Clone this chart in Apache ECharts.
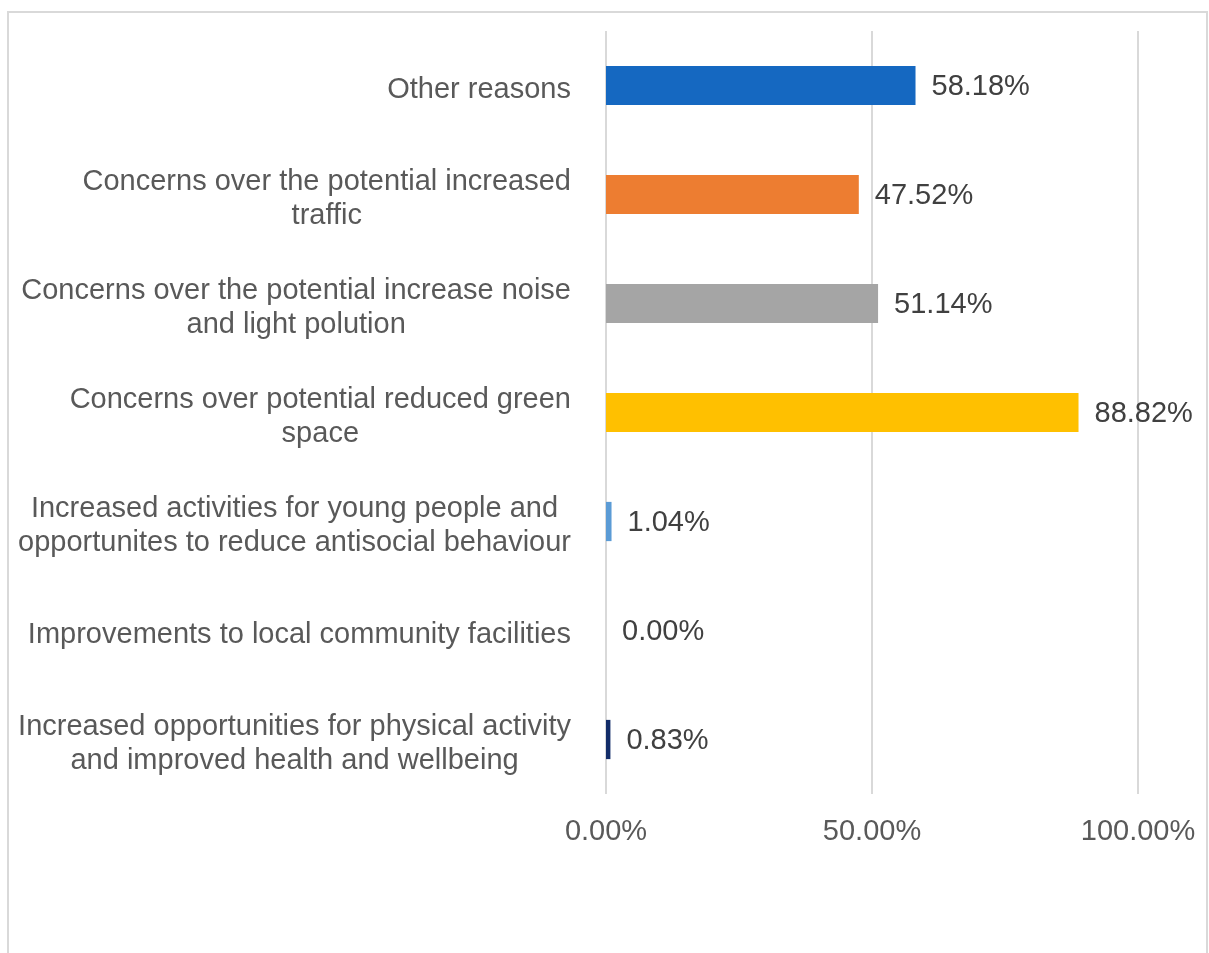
<!DOCTYPE html>
<html>
<head>
<meta charset="utf-8">
<script src="https://cdn.jsdelivr.net/npm/echarts@6/dist/echarts.min.js"></script>
<style>
  html, body { margin: 0; padding: 0; background: #ffffff; }
  #chart { width: 1209px; height: 953px; }
</style>
</head>
<body>
<div id="chart"></div>
<script>
// Survey reasons, listed top to bottom
const categories = [
  'Other reasons',
  'Concerns over the potential increased\ntraffic',
  'Concerns over the potential increase noise\nand light polution',
  'Concerns over potential reduced green\nspace',
  'Increased activities for young people and\nopportunites to reduce antisocial behaviour',
  'Improvements to local community facilities',
  'Increased opportunities for physical activity\nand improved health and wellbeing'
];
// Share of respondents (%)
const values = [58.18, 47.52, 51.14, 88.82, 1.04, 0.00, 0.83];
const barColors = ['#1568C1', '#ED7D31', '#A5A5A5', '#FFC000', '#5B9BD5', '#70AD47', '#122C68'];
const xTicks = [0, 50, 100];

const FONT = '"Liberation Sans", Arial, sans-serif';
const chart = echarts.init(document.getElementById('chart'), null, { renderer: 'canvas' });

chart.setOption({
  backgroundColor: '#ffffff',
  animation: false,
  graphic: [{
    type: 'rect',
    shape: { x: 8, y: 12, width: 1199, height: 1000 },
    style: { fill: 'none', stroke: '#D9D9D9', lineWidth: 2 },
    silent: true
  }],
  grid: { left: 606, right: 71, top: 31, bottom: 159, containLabel: false },
  xAxis: {
    type: 'value',
    min: xTicks[0],
    max: xTicks[xTicks.length - 1],
    interval: xTicks[1] - xTicks[0],
    axisLine: { show: false },
    axisTick: { show: false },
    splitLine: { show: true, lineStyle: { color: '#D9D9D9', width: 2 } },
    axisLabel: {
      color: '#595959',
      fontFamily: FONT,
      fontSize: 29,
      margin: 23,
      formatter: v => v.toFixed(2) + '%'
    }
  },
  yAxis: {
    type: 'category',
    inverse: true,
    data: categories,
    axisLine: { show: false },
    axisTick: { show: false },
    axisLabel: {
      margin: 35,
      align: 'right',
      padding: [9, 0, 0, 0],
      formatter: v => v.split('\n').map(s => '{c|' + s + '}').join('\n'),
      rich: {
        c: { align: 'center', color: '#595959', fontFamily: FONT, fontSize: 29, lineHeight: 34 }
      }
    }
  },
  series: [{
    type: 'bar',
    data: values.map((v, i) => ({ value: v, itemStyle: { color: barColors[i] } })),
    barCategoryGap: '64%',
    label: {
      show: true,
      position: 'right',
      distance: 16,
      offset: [0, 1],
      color: '#404040',
      fontFamily: FONT,
      fontSize: 29,
      formatter: p => p.value.toFixed(2) + '%'
    }
  }]
});
</script>
</body>
</html>
